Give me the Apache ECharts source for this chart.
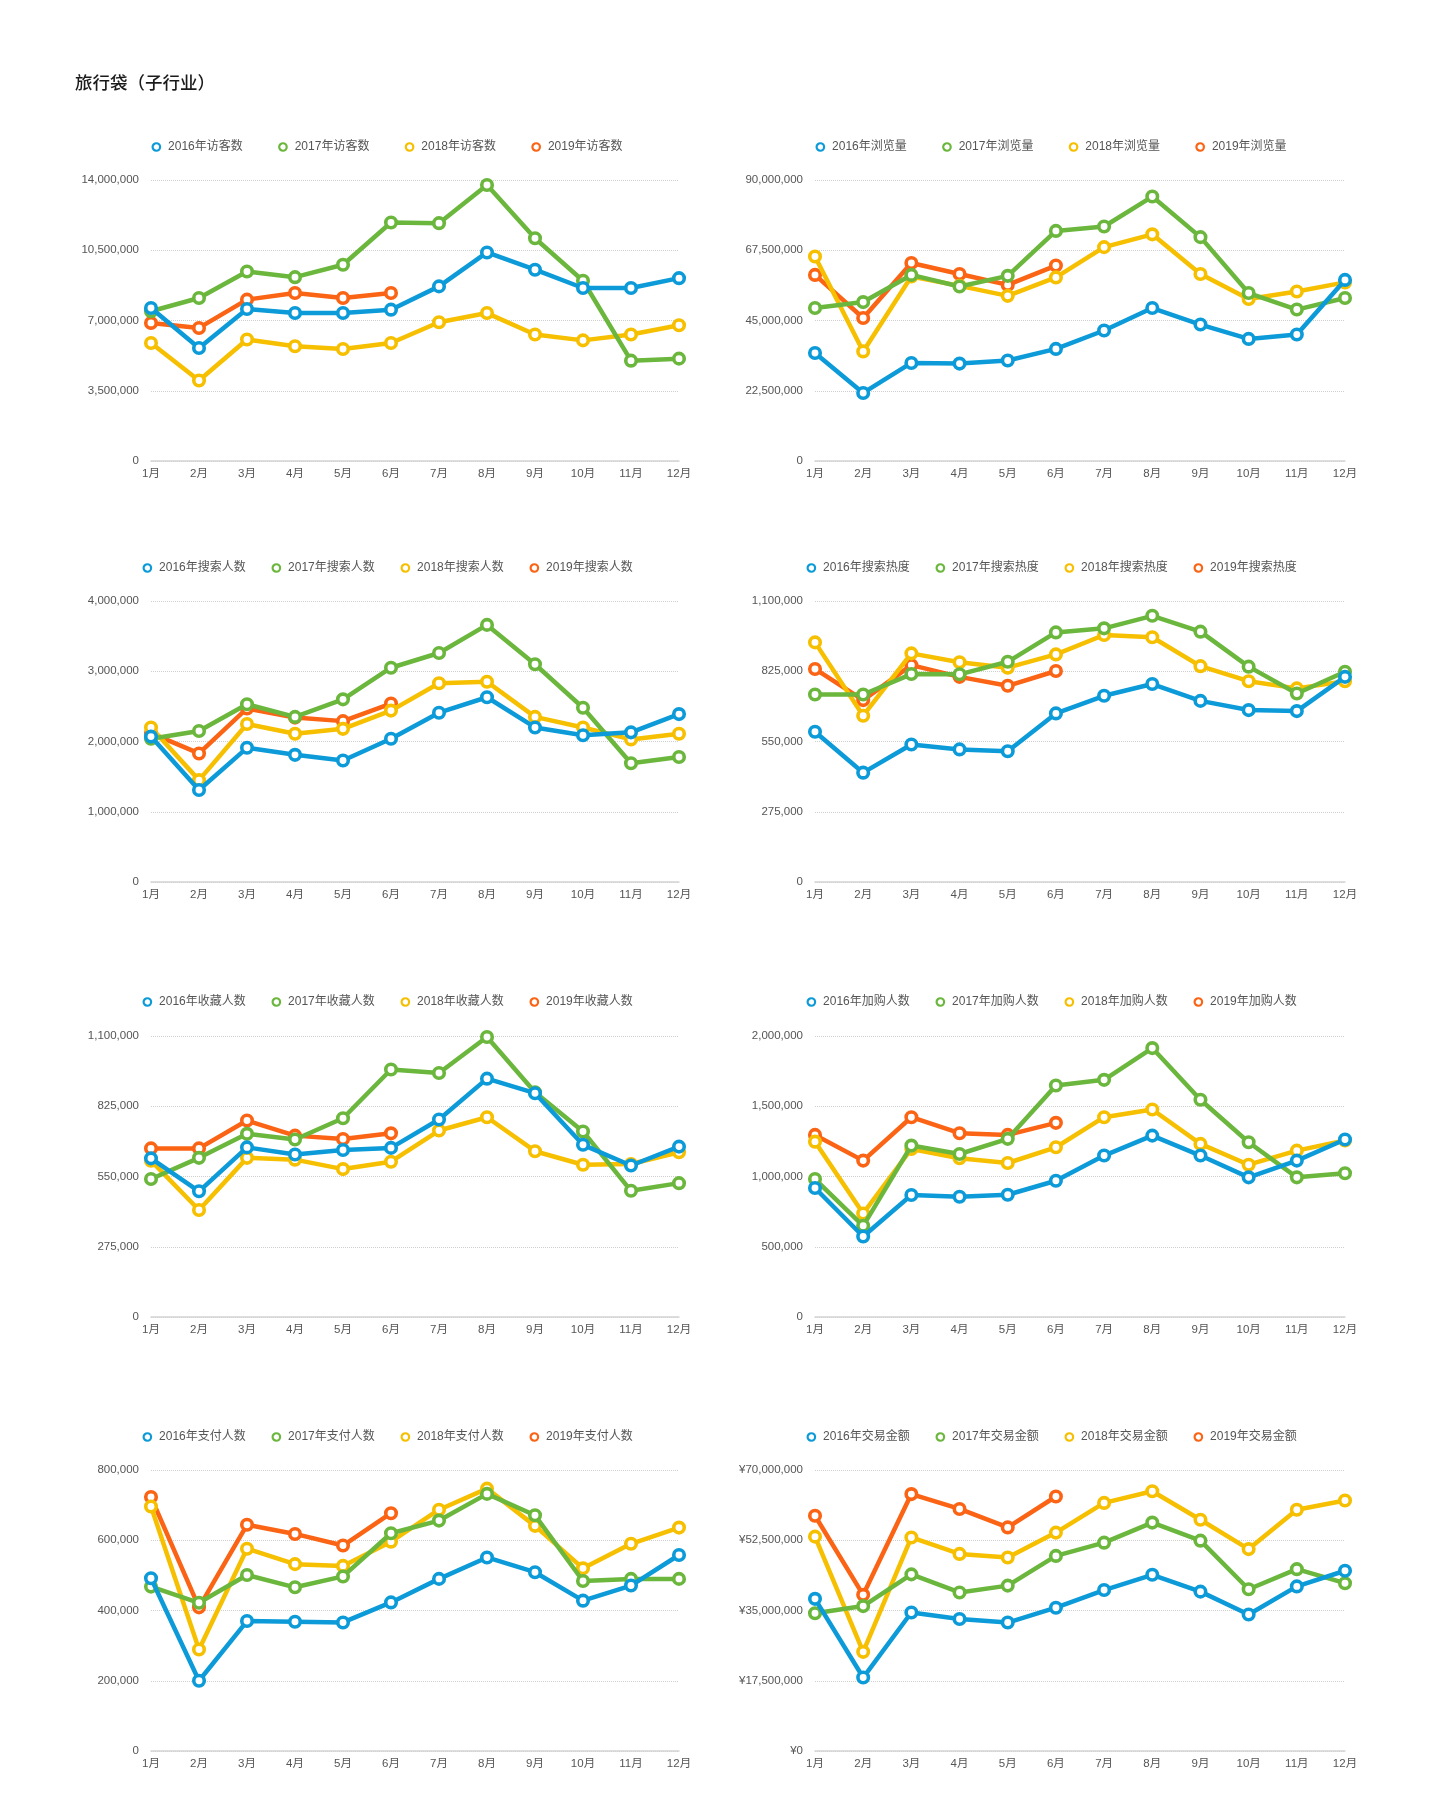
<!DOCTYPE html>
<html>
<head>
<meta charset="utf-8">
<script src="https://cdn.jsdelivr.net/npm/echarts@6/dist/echarts.min.js"></script>
<style>
  html, body { margin: 0; padding: 0; background: #fff; }
  body { width: 1440px; height: 1815px; position: relative; overflow: hidden; }
  .c { position: absolute; width: 664px; height: 372px; }
</style>
</head>
<body>
<div id="t" style="position:absolute;left:0;top:0;width:1440px;height:120px;"></div>
<div id="c1" class="c" style="left:56px;top:127px;"></div>
<div id="c2" class="c" style="left:720px;top:127px;"></div>
<div id="c3" class="c" style="left:56px;top:548px;"></div>
<div id="c4" class="c" style="left:720px;top:548px;"></div>
<div id="c5" class="c" style="left:56px;top:982px;"></div>
<div id="c6" class="c" style="left:720px;top:982px;"></div>
<div id="c7" class="c" style="left:56px;top:1417px;"></div>
<div id="c8" class="c" style="left:720px;top:1417px;"></div>
<script>
const pageTitle = '旅行袋（子行业）';
const months = ['1月','2月','3月','4月','5月','6月','7月','8月','9月','10月','11月','12月'];
const years = ['2016年','2017年','2018年','2019年'];
const colors = ['#0c9bd8','#6bb73d','#f6bf00','#fa6414'];

// 访客数
const visitors2016 = [7620000,5630000,7570000,7370000,7370000,7540000,8700000,10390000,9530000,8620000,8620000,9110000];
const visitors2017 = [7460000,8120000,9440000,9160000,9780000,11880000,11850000,13750000,11100000,8980000,5000000,5100000];
const visitors2018 = [5880000,4010000,6050000,5720000,5580000,5880000,6910000,7370000,6300000,6010000,6300000,6760000];
const visitors2019 = [6880000,6630000,8040000,8370000,8120000,8370000];
// 浏览量
const pageviews2016 = [34600000,21800000,31400000,31200000,32200000,35900000,41800000,49000000,43700000,39100000,40500000,58000000];
const pageviews2017 = [49000000,50900000,59600000,55900000,59300000,73700000,75100000,84700000,71700000,53800000,48500000,52200000];
const pageviews2018 = [65500000,35100000,59100000,56100000,52900000,58800000,68500000,72600000,59900000,51900000,54300000,57200000];
const pageviews2019 = [59600000,45800000,63400000,59900000,56400000,62600000];
// 搜索人数
const searchers2016 = [2070000,1310000,1910000,1810000,1730000,2040000,2410000,2630000,2200000,2090000,2130000,2390000];
const searchers2017 = [2040000,2150000,2530000,2350000,2600000,3050000,3260000,3660000,3100000,2480000,1690000,1780000];
const searchers2018 = [2200000,1450000,2250000,2110000,2180000,2440000,2830000,2850000,2350000,2200000,2030000,2110000];
const searchers2019 = [2120000,1830000,2470000,2340000,2290000,2540000];
// 搜索热度
const searchHeat2016 = [588000,428000,538000,519000,512000,660000,729000,775000,709000,673000,669000,803000];
const searchHeat2017 = [734000,734000,814000,813000,862000,977000,993000,1042000,980000,843000,738000,823000];
const searchHeat2018 = [938000,651000,895000,860000,839000,891000,967000,958000,845000,786000,758000,786000];
const searchHeat2019 = [834000,712000,849000,803000,768000,826000];
// 收藏人数
const favorites2016 = [621000,492000,664000,636000,654000,662000,773000,933000,876000,674000,593000,667000];
const favorites2017 = [540000,623000,717000,695000,778000,969000,955000,1096000,880000,726000,494000,524000];
const favorites2018 = [612000,419000,623000,616000,579000,608000,730000,782000,649000,596000,599000,645000];
const favorites2019 = [660000,660000,769000,710000,697000,719000];
// 加购人数
const carts2016 = [918000,573000,868000,856000,870000,970000,1149000,1291000,1149000,994000,1113000,1263000];
const carts2017 = [982000,649000,1220000,1160000,1268000,1648000,1688000,1914000,1546000,1244000,994000,1023000];
const carts2018 = [1248000,737000,1196000,1130000,1096000,1208000,1422000,1477000,1232000,1084000,1184000,1256000];
const carts2019 = [1296000,1113000,1422000,1308000,1296000,1382000];
// 支付人数
const payers2016 = [492000,200000,370000,368000,366000,423000,490000,551000,509000,428000,471000,558000];
const payers2017 = [468000,422000,501000,466000,497000,620000,656000,732000,671000,484000,490000,490000];
const payers2018 = [696000,289000,576000,532000,527000,596000,687000,747000,641000,520000,590000,636000];
const payers2019 = [723000,409000,644000,618000,585000,677000];
// 交易金额
const gmv2016 = [37900000,18300000,34500000,32900000,32000000,35700000,40100000,43900000,39700000,34000000,41000000,44900000];
const gmv2017 = [34300000,36100000,44000000,39500000,41200000,48600000,51900000,56900000,52400000,40300000,45300000,41800000];
const gmv2018 = [53400000,24700000,53200000,49100000,48200000,54400000,61800000,64700000,57600000,50300000,60100000,62400000];
const gmv2019 = [58600000,38900000,64000000,60300000,55700000,63400000];

const panels = [
  { id: 'c1', metric: '访客数',   max: 14000000, interval: 3500000,  prefix: '',  data: [visitors2016, visitors2017, visitors2018, visitors2019] },
  { id: 'c2', metric: '浏览量',   max: 90000000, interval: 22500000, prefix: '',  data: [pageviews2016, pageviews2017, pageviews2018, pageviews2019] },
  { id: 'c3', metric: '搜索人数', max: 4000000,  interval: 1000000,  prefix: '',  data: [searchers2016, searchers2017, searchers2018, searchers2019] },
  { id: 'c4', metric: '搜索热度', max: 1100000,  interval: 275000,   prefix: '',  data: [searchHeat2016, searchHeat2017, searchHeat2018, searchHeat2019] },
  { id: 'c5', metric: '收藏人数', max: 1100000,  interval: 275000,   prefix: '',  data: [favorites2016, favorites2017, favorites2018, favorites2019] },
  { id: 'c6', metric: '加购人数', max: 2000000,  interval: 500000,   prefix: '',  data: [carts2016, carts2017, carts2018, carts2019] },
  { id: 'c7', metric: '支付人数', max: 800000,   interval: 200000,   prefix: '',  data: [payers2016, payers2017, payers2018, payers2019] },
  { id: 'c8', metric: '交易金额', max: 70000000, interval: 17500000, prefix: '¥', data: [gmv2016, gmv2017, gmv2018, gmv2019] }
];

const FONT = "'Liberation Sans', 'Noto Sans CJK SC', sans-serif";

const tChart = echarts.init(document.getElementById('t'), null, { renderer: 'canvas' });
tChart.setOption({
  animation: false,
  title: {
    text: pageTitle, left: 75, top: 74, padding: 0,
    textStyle: { fontSize: 17.5, fontWeight: 500, color: '#1a1a1a', fontFamily: FONT, lineHeight: 20 }
  }
});

panels.forEach((p, idx) => {
  const chart = echarts.init(document.getElementById(p.id), null, { renderer: 'canvas' });
  const gridTop = (idx === 4 || idx === 5) ? 54 : 53;
  const names = years.map(y => y + p.metric);
  const firstRow = idx < 2;
  const legendStart = firstRow ? 95.5 : 86.5;
  const legendStep = firstRow ? 126.6 : 129;
  chart.setOption({
    animation: false,
    legend: names.map((n, i) => ({
      data: [n],
      top: 13, left: legendStart + i * legendStep, padding: 0,
      icon: 'circle', itemWidth: 7.5, itemHeight: 7.5,
      itemStyle: { color: '#fff', borderColor: colors[i], borderWidth: 2.2 },
      textStyle: { fontSize: 12, color: '#555', fontFamily: FONT, lineHeight: 14, padding: [0, 0, 0, 3] }
    })),
    grid: { left: 95, width: p.id.match(/[1357]$/) ? 528 : 530, top: gridTop, height: 281, containLabel: false },
    xAxis: {
      type: 'category', data: months, boundaryGap: false,
      axisLine: { lineStyle: { color: '#d4d4d4', width: 1.5 } },
      axisTick: { show: false },
      axisLabel: { color: '#555', fontSize: 11.5, margin: 7, fontFamily: FONT, interval: 0 },
      splitLine: { show: false }
    },
    yAxis: {
      type: 'value', min: 0, max: p.max, interval: p.interval,
      axisLine: { show: false }, axisTick: { show: false },
      axisLabel: {
        color: '#555', fontSize: 11.5, margin: 12, fontFamily: FONT,
        formatter: v => p.prefix + Math.round(v).toLocaleString('en-US')
      },
      splitLine: { lineStyle: { type: 'dotted', color: '#cfcfcf', width: 1 } }
    },
    series: p.data.map((d, i) => ({
      name: names[i], type: 'line', data: d, z: 10 - i,
      symbol: 'circle', symbolSize: 10.5, showSymbol: true,
      lineStyle: { width: 4.5, color: colors[i] },
      itemStyle: { color: '#fff', borderColor: colors[i], borderWidth: 3.6 },
      emphasis: { disabled: true }
    }))
  });
});
</script>
</body>
</html>
